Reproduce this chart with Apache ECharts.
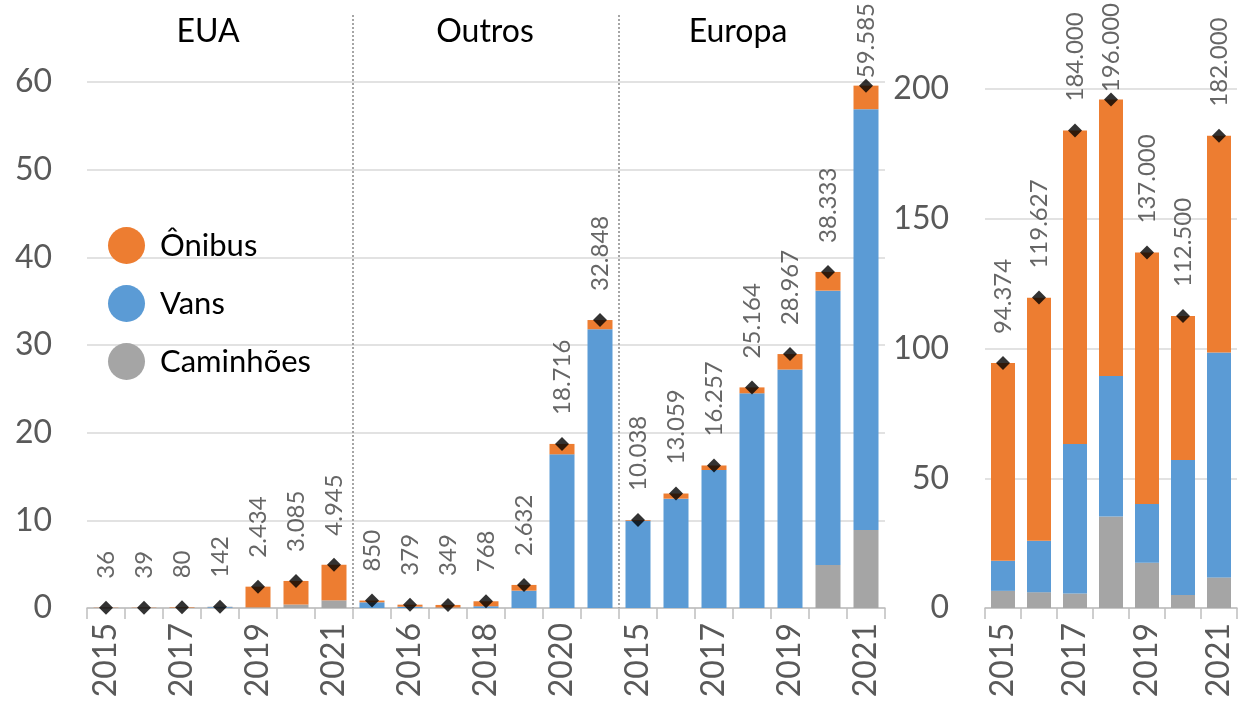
<!DOCTYPE html>
<html>
<head>
<meta charset="utf-8">
<script src="https://cdn.jsdelivr.net/npm/echarts@6/dist/echarts.min.js"></script>
<style>
html,body{margin:0;padding:0;background:#fff;}
#chart{width:1238px;height:709px;}
</style>
</head>
<body>
<div id="chart"></div>
<script>
// ---- data (values in thousands; totals in units for labels) ----
const years = ['2015','2016','2017','2018','2019','2020','2021'];
const groups = ['EUA','Outros','Europa'];
const leftCategories = [
  '2015','2016','2017','2018','2019','2020','2021',
  '2015','2016','2017','2018','2019','2020','2021',
  '2015','2016','2017','2018','2019','2020','2021'
];
const rightCategories = ['2015','2016','2017','2018','2019','2020','2021'];

const caminhoesLeft = [0.005,0.005,0.010,0.040,0.050,0.370,0.800,
                       0,0,0,0,0,0,0,
                       0,0,0,0,0,4.9,8.9];
const vansLeft      = [0.005,0.005,0.010,0.090,0.020,0.020,0.050,
                       0.650,0.150,0.050,0.200,1.980,17.53,31.80,
                       9.96,12.47,15.74,24.49,27.20,31.30,48.00];
const onibusLeft    = [0.026,0.029,0.060,0.012,2.364,2.695,4.095,
                       0.200,0.229,0.299,0.568,0.652,1.186,1.048,
                       0.078,0.589,0.517,0.674,1.767,2.133,2.685];
const totalsLeft    = [36,39,80,142,2434,3085,4945,
                       850,379,349,768,2632,18716,32848,
                       10038,13059,16257,25164,28967,38333,59585];

const caminhoesRight = [6.6,6.1,5.6,35.3,17.4,5.0,11.8];
const vansRight      = [11.6,19.8,57.6,54.1,22.7,52.0,86.7];
const onibusRight    = [76.2,93.7,120.8,106.6,96.9,55.5,83.5];
const totalsRight    = [94374,119627,184000,196000,137000,112500,182000];

const leftTicks = [0,10,20,30,40,50,60];
const rightTicks = [0,50,100,150,200];

// ---- style ----
const C_ONIBUS = '#ED7D31', C_VANS = '#5B9BD5', C_CAM = '#A5A5A5';
const FONT = 'Lato, "Open Sans", sans-serif';
const LABEL_SIZE = 24, SYM = 14, LABEL_DIST = 22;
const fmt = n => String(n).replace(/\B(?=(\d{3})+(?!\d))/g, '.');

const chart = echarts.init(document.getElementById('chart'), null, {renderer:'canvas'});

function xAxisCfg(idx, data){
  return {
    type:'category', gridIndex:idx, data:data,
    axisLine:{show:true, lineStyle:{color:'#bfbfbf', width:1.5}},
    axisTick:{show:true, interval:0, length:11, lineStyle:{color:'#bfbfbf', width:1.5}},
    axisLabel:{interval:1, rotate:90, fontSize:32, color:'#595959', margin:15, fontFamily:FONT}
  };
}
function yAxisCfg(idx, max, interval, margin){
  return {
    type:'value', gridIndex:idx, min:0, max:max, interval:interval,
    axisLine:{show:false}, axisTick:{show:false},
    axisLabel:{fontSize:32, color:'#595959', margin:margin, fontFamily:FONT},
    splitLine:{show:true, lineStyle:{color:'#d9d9d9', width:1.5}}
  };
}
function barSeries(name, color, data, idx, bw){
  return {
    name:name, type:'bar', stack:'s'+idx, xAxisIndex:idx, yAxisIndex:idx,
    data:data, barWidth:bw, itemStyle:{color:color}, emphasis:{disabled:true}
  };
}
function totalSeries(totals, idx){
  return {
    name:'Total', type:'scatter', xAxisIndex:idx, yAxisIndex:idx,
    data: totals.map(v => v/1000),
    symbol:'diamond', symbolSize:SYM, z:5,
    itemStyle:{color:'#000'},
    label:{
      show:true, position:'top', distance:LABEL_DIST, rotate:90,
      align:'left', verticalAlign:'middle',
      fontSize:LABEL_SIZE, color:'#404040', fontFamily:FONT,
      formatter: p => fmt(totals[p.dataIndex])
    }
  };
}

const option = {
  animation:false,
  backgroundColor:'#fff',
  grid:[
    {left:87, top:82, width:798, height:526, outerBoundsMode:'none'},
    {left:985, top:89, width:252, height:519, outerBoundsMode:'none'}
  ],
  xAxis:[xAxisCfg(0, leftCategories), xAxisCfg(1, rightCategories)],
  yAxis:[yAxisCfg(0, 60, 10, 35), yAxisCfg(1, 200, 50, 36)],
  legend:{
    data:['Ônibus','Vans','Caminhões'],
    orient:'vertical', left:103, top:222,
    icon:'circle', itemWidth:37, itemHeight:37, itemGap:21,
    textStyle:{fontSize:31, color:'#000', fontFamily:FONT, padding:[0,0,0,10]},
    selectedMode:false
  },
  series:[
    barSeries('Caminhões', C_CAM, caminhoesLeft, 0, 25),
    barSeries('Vans', C_VANS, vansLeft, 0, 25),
    barSeries('Ônibus', C_ONIBUS, onibusLeft, 0, 25),
    totalSeries(totalsLeft, 0),
    barSeries('Caminhões', C_CAM, caminhoesRight, 1, 24),
    barSeries('Vans', C_VANS, vansRight, 1, 24),
    barSeries('Ônibus', C_ONIBUS, onibusRight, 1, 24),
    totalSeries(totalsRight, 1)
  ]
};
chart.setOption(option);

// keep total labels inside the canvas (like the original, which pulls them down)
const ctx = document.createElement('canvas').getContext('2d');
ctx.font = LABEL_SIZE + 'px ' + FONT;
function fitData(totals, idx){
  return totals.map((v, i) => {
    const y = chart.convertToPixel({xAxisIndex:idx, yAxisIndex:idx}, [i, v/1000])[1];
    const w = ctx.measureText(fmt(v)).width;
    const room = y - SYM/2 - w - 3;
    if (room < LABEL_DIST) {
      return {value: v/1000, label:{distance: Math.max(0, room)}};
    }
    return v/1000;
  });
}
chart.setOption({series:[
  {}, {}, {}, {data: fitData(totalsLeft, 0)},
  {}, {}, {}, {data: fitData(totalsRight, 1)}
]});

// separators and group titles computed from the axis
const p6 = chart.convertToPixel({xAxisIndex:0}, 6);
const p7 = chart.convertToPixel({xAxisIndex:0}, 7);
const p13 = chart.convertToPixel({xAxisIndex:0}, 13);
const p14 = chart.convertToPixel({xAxisIndex:0}, 14);
const y0 = chart.convertToPixel({yAxisIndex:0}, 0);
const sep1 = (p6+p7)/2, sep2 = (p13+p14)/2;
const titleX = [208, 485, 738];
const graphics = [];
[sep1, sep2].forEach(x => graphics.push({
  type:'line', shape:{x1:x, y1:15, x2:x, y2:y0},
  style:{stroke:'#a6a6a6', lineWidth:2, lineDash:[2,2]}, z:1
}));
groups.forEach((g,i) => graphics.push({
  type:'text', x:titleX[i], y:32,
  style:{text:g, fontSize:32, fill:'#000', fontFamily:FONT, align:'center', verticalAlign:'middle'}
}));
chart.setOption({graphic:graphics});
</script>
</body>
</html>
